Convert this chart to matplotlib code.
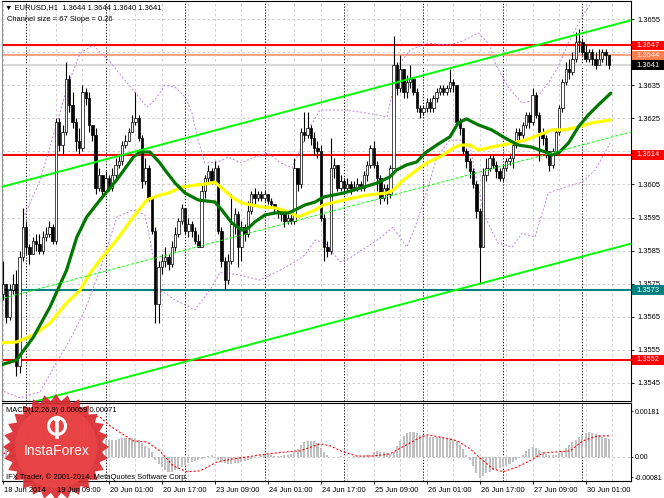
import numpy as np
import matplotlib
matplotlib.use("Agg")
import matplotlib.pyplot as plt
import matplotlib.transforms as mtransforms
from matplotlib.patches import Rectangle, Polygon, Circle

plt.rcParams['font.family'] = ['Liberation Sans', 'DejaVu Sans']

# ---------------- data (prices in pips above 1.3500) ----------------
BASE = 1.3500
PIP = 0.0001

first_open = 72
close_p = [75, 65, 73, 75, 50, 83, 92, 86, 84, 88,
           87, 85, 89, 90, 92, 88, 124, 117, 121, 137,
           129, 124, 118, 116, 133, 131, 123, 120, 104, 108,
           103, 107, 104, 108, 111, 112, 117, 118, 121, 124,
           125, 119, 106, 110, 101, 91, 69, 80, 82, 83,
           81, 86, 90, 94, 98, 91, 93, 91, 88, 86,
           103, 107, 109, 106, 110, 91, 82, 76, 82, 93,
           96, 86, 92, 90, 97, 102, 101, 102, 101, 102,
           100, 99, 98, 97, 96, 94, 95, 94, 110, 105,
           121, 120, 122, 119, 116, 115, 95, 86, 85, 110,
           111, 104, 106, 104, 105, 104, 104, 105, 104, 108,
           111, 116, 111, 107, 101, 104, 102, 110, 141, 134,
           140, 133, 136, 137, 133, 128, 127, 128, 130, 128,
           131, 133, 134, 133, 134, 136, 135, 124, 122, 115,
           112, 109, 105, 97, 86, 108, 110, 113, 111, 109,
           107, 110, 112, 113, 117, 121, 120, 123, 126, 124,
           132, 126, 121, 119, 115, 111, 115, 121, 128, 136,
           140, 139, 143, 148, 148, 145, 143, 145, 143, 141,
           143, 145, 144, 141]
high_p = [82, 75, 75, 78, 79, 85, 98, 94, 87, 89,
          90, 90, 91, 92, 94, 93, 125, 125, 123, 142,
          138, 133, 125, 122, 135, 134, 133, 122, 122, 110,
          108, 109, 108, 110, 113, 114, 118, 120, 122, 126,
          133, 126, 120, 113, 111, 101, 92, 82, 84, 86,
          84, 88, 92, 95, 99, 97, 95, 94, 92, 90,
          105, 108, 111, 110, 112, 111, 92, 83, 84, 102,
          98, 97, 94, 93, 100, 103, 104, 103, 103, 103,
          102, 101, 99, 98, 97, 96, 96, 96, 113, 109,
          122, 127, 127, 123, 121, 118, 117, 96, 88, 119,
          113, 111, 108, 107, 107, 106, 106, 107, 106, 109,
          112, 117, 118, 112, 108, 105, 105, 111, 150, 142,
          144, 140, 138, 141, 137, 134, 129, 129, 131, 131,
          132, 134, 135, 135, 135, 140, 137, 135, 125, 122,
          116, 113, 110, 106, 98, 110, 113, 114, 114, 112,
          110, 111, 113, 114, 118, 122, 122, 124, 127, 127,
          134, 133, 127, 122, 120, 115, 116, 122, 129, 137,
          142, 143, 145, 151, 152, 149, 147, 146, 146, 145,
          146, 146, 146, 144]
low_p = [70, 63, 64, 72, 47, 48, 82, 84, 81, 84,
         85, 84, 84, 88, 89, 87, 87, 115, 114, 120,
         127, 122, 115, 114, 115, 129, 121, 118, 102, 103,
         101, 102, 103, 103, 106, 110, 111, 116, 118, 121,
         123, 118, 104, 105, 100, 90, 63, 63, 78, 80,
         79, 80, 85, 89, 93, 90, 89, 89, 87, 86,
         86, 101, 105, 105, 105, 90, 80, 73, 75, 81,
         90, 80, 82, 88, 89, 96, 99, 100, 100, 100,
         99, 98, 96, 95, 94, 92, 93, 93, 93, 103,
         104, 118, 119, 117, 114, 113, 94, 82, 83, 84,
         107, 103, 103, 102, 103, 102, 103, 103, 103, 103,
         106, 110, 110, 103, 99, 100, 99, 101, 110, 132,
         133, 131, 131, 134, 132, 127, 125, 126, 127, 127,
         127, 130, 132, 132, 132, 133, 133, 123, 120, 114,
         110, 107, 104, 95, 75, 86, 106, 109, 110, 107,
         106, 106, 109, 111, 110, 116, 118, 119, 122, 122,
         123, 125, 112, 117, 113, 109, 110, 114, 120, 127,
         135, 137, 138, 142, 145, 144, 142, 142, 141, 140,
         141, 142, 141, 140]

# moving averages (bar index, pips)
ma_green_i = [-0.9, 4.1, 9.2, 14.2, 19.2, 22.3, 25.3, 29.3, 34.3, 39.4, 41.4, 44.4, 47.4,
              48.9, 52, 55, 59, 64, 66.1, 69.1, 72.1, 74.1, 76.1, 79.2, 82.2, 86.2, 88.2,
              91.2, 94.3, 96.8, 102.8, 107.9, 112.9, 116.9, 118.9, 121.9, 125, 127.5, 131,
              135, 137.5, 140, 143.6, 147.6, 151.7, 155.7, 159.7, 163.8, 165.8, 167.8,
              170.8, 173.8, 176.8, 179.8, 183.6]
ma_green_p = [50.4, 51.9, 58.9, 68, 79.1, 89.1, 95.2, 100.3, 106.3, 113.3, 114.8, 114.8, 111.5,
              109.4, 105.4, 102.4, 100.3, 99.7, 97.3, 93.4, 91.2, 91.8, 93.7, 95.8, 96.4, 96.4,
              97.3, 98.8, 99.7, 101.2, 102.4, 103.9, 105.4, 107.3, 109.4, 110.9, 111.8, 114.5,
              116.9, 119.4, 123.6, 124.8, 123, 121.5, 119, 116.9, 116.3, 114.8, 113.9, 114.5,
              117.5, 122.4, 126, 129, 132.6]
ma_yellow_i = [-0.9, 4.1, 9.2, 14.2, 19.2, 23.3, 26.3, 29.3, 34.3, 39.4, 43.4, 47.4, 49.9,
               54, 58, 61, 64, 66.1, 69.1, 72.1, 75.1, 78.2, 82.2, 86.2, 89.2, 92.2, 94.3,
               96.8, 102.8, 109.9, 115.9, 117.9, 120.9, 125, 128, 133, 136, 138.1, 141.1,
               143.6, 147.6, 153.7, 157.7, 161.7, 165.8, 169.8, 173.8, 177.8, 183.6]
ma_yellow_p = [57.1, 57.4, 59.5, 63.1, 69.2, 73.1, 78.2, 82.2, 88.2, 95.2, 100.3, 101.8, 102.4,
               104.2, 104.8, 105.1, 105.7, 103.9, 101.2, 99.4, 98.8, 98.2, 97.9, 96.7, 95.2,
               96.4, 97.3, 98.8, 100.3, 101.8, 102.4, 103.3, 106.3, 109.4, 111.5, 113.9, 116,
               116.9, 116.9, 115.4, 116.3, 117.5, 118.4, 119.9, 121.5, 121.5, 122.4, 123.6, 124.5]

# envelope bands (violet dotted)
band_up_i = [6.6, 11.2, 15.7, 19.6, 23.3, 27.2, 32.3, 39.3, 43.5, 45.9, 48.9, 52, 55, 57.1,
             58.9, 61, 64.9, 68, 71.9, 76.1, 80.1, 84, 87.3, 89.7, 92.7, 95.8, 102.7, 107.9,
             113, 116, 117.8, 119.9, 123, 128.1, 135, 139.6, 143.5, 147.1, 148.6, 152.6,
             156.8, 160.7, 164.7, 167.7, 170.7, 172.8, 175.8, 180.4]
band_up_p = [95.8, 106.3, 121.5, 135, 144.7, 147.1, 142, 133.5, 128.4, 130.5, 135, 134.4,
             131.4, 126.6, 118.4, 111.5, 111.8, 113.3, 111.5, 113.3, 114.5, 111.5, 110, 115.4,
             122.4, 127.5, 127.5, 126.9, 126, 125.4, 133.5, 141.7, 145.6, 147.7, 147.1, 148.7,
             150.8, 147.1, 141.7, 134.4, 129.6, 130.5, 135.7, 140.5, 147.7, 151.7, 157.1, 163.8]
band_lo_i = [-0.9, 5.1, 11.2, 15.7, 20.2, 24.8, 29.3, 34.4, 39.3, 42.9, 45, 47.4, 52, 58,
             62.5, 65.6, 71.6, 77.6, 83.7, 88.2, 91.2, 94.3, 97.3, 101.8, 104.8, 109.4, 113.9,
             117.8, 119.9, 122, 124.5, 127.5, 131.1, 135, 138.1, 141.1, 143.5, 145.6, 149.5,
             153.8, 156.8, 160.7, 164.7, 169.8, 174.9, 178.9, 183.4]
band_lo_p = [42.9, 40.5, 42.3, 50.4, 58, 67.1, 79.1, 95.2, 97.3, 95.8, 85.2, 73.1, 70.1, 67.1,
             73.1, 78.5, 77.6, 76.1, 79.1, 81.6, 83.7, 88.2, 87.3, 81.6, 82.8, 85.8, 88.8,
             92.1, 89.1, 86.1, 92.1, 101.2, 113.3, 118.4, 118.4, 116.3, 104.2, 95.2, 87.3,
             86.1, 90.3, 89.1, 102.4, 104.2, 105.7, 109.4, 117.5]

# regression channel
channel_i = [-1, 190]
channel_upper_p = [104.1, 154.7]
channel_size = 67.5

# horizontal levels
level_prices = [1.3647, 1.3644, 1.3641, 1.3614, 1.3573, 1.3552]
level_line_colors = ['#FF0000', '#FFA585', '#D8D8D8', '#FF0000', '#008080', '#FF0000']
level_box_colors = ['#FF0000', '#FF7F50', '#000000', '#FF0000', '#008080', '#FF0000']

price_ticks = [1.3545, 1.3555, 1.3565, 1.3575, 1.3585, 1.3595,
               1.3605, 1.3615, 1.3625, 1.3635, 1.3645, 1.3655]
hidden_price_ticks = [1.3615, 1.3645]   # covered by level boxes in the reference

time_label_idx = [0, 16, 32, 48, 64, 80, 96, 112, 128, 144, 160, 176]
time_labels = ["18 Jun 2014", "19 Jun 09:00", "20 Jun 01:00", "20 Jun 17:00",
               "23 Jun 09:00", "24 Jun 01:00", "24 Jun 17:00", "25 Jun 09:00",
               "26 Jun 01:00", "26 Jun 17:00", "27 Jun 09:00", "30 Jun 01:00"]
day_start_idx = [7, 31, 55, 79, 103, 127, 151, 175]

# MACD (units of 1e-5)
macd_main = [48, 40, 42, 45, 20, 45, 70, 85, 95, 100,
             105, 108, 110, 112, 114, 112, 130, 138, 142, 155,
             158, 155, 150, 146, 145, 142, 132, 118, 95, 72,
             60, 58, 56, 57, 58, 60, 62, 64, 65, 64,
             62, 58, 45, 38, 30, 15, -10, -25, -35, -45,
             -50, -50, -45, -40, -35, -28, -22, -18, -15, -12,
             -8, -3, 3, 5, -3, -10, -15, -20, -25, -25,
             -22, -20, -18, -15, -12, -8, -3, 0, 3, 5,
             5, 5, 4, 3, 4, 5, 6, 10, 18, 28,
             40, 50, 55, 55, 52, 45, 30, 15, 5, 0,
             -2, 0, 2, 0, -2, 0, 2, 3, 2, 3,
             5, 8, 15, 20, 18, 15, 12, 10, 15, 35,
             55, 70, 80, 85, 85, 80, 75, 72, 70, 68,
             67, 66, 66, 65, 64, 62, 60, 55, 40, 25,
             5, -10, -30, -55, -70, -65, -55, -50, -45, -42,
             -38, -35, -30, -25, -18, -12, -5, 5, 20, 28,
             32, 30, 22, 15, 10, 8, 6, 8, 12, 20,
             30, 40, 50, 58, 66, 75, 80, 82, 80, 78,
             72, 68, 64, 59]
signal_i = [-0.9, 4.2, 9.1, 14.2, 19.3, 24.2, 27.2, 29.3, 32.3, 39.3, 43.5, 47.4, 51.4, 55.6,
            59.5, 64.7, 69.5, 75.5, 79.8, 85.8, 89.7, 95.8, 98.8, 102.7, 106.9, 111.8, 116.9,
            120.8, 125.1, 128.1, 132, 137.2, 141.1, 145, 148, 151.1, 155.3, 159.2, 163.1,
            167.4, 171.3, 175.2, 179.5, 183.4]
signal_v = [3, 37, 94, 115, 128, 136, 137, 134, 104, 54, 50, 20, -30, -50,
            -47, -17, -7, 3, 10, 17, 20, 44, 37, 17, 3, 3, 10,
            34, 60, 74, 67, 54, 27, -13, -40, -50, -34, -13, 13,
            17, 20, 54, 70, 71]

# ---------------- figure ----------------
W, H = 664, 498
fig = plt.figure(figsize=(W / 100, H / 100), dpi=100)
fig.patch.set_facecolor('white')

def frac(x0, y0, x1, y1):
    return [x0 / W, 1 - y1 / H, (x1 - x0) / W, (y1 - y0) / H]

ax = fig.add_axes(frac(2, 1, 631, 401))
ax2 = fig.add_axes(frac(2, 403, 631, 481))

XMIN, XMAX = -0.3, 189.7
FS = 5.4

close = BASE + np.array(close_p) * PIP
high = BASE + np.array(high_p) * PIP
low = BASE + np.array(low_p) * PIP
opens = np.concatenate([[BASE + first_open * PIP], close[:-1]])
high = np.maximum(high, np.maximum(opens, close))
low = np.minimum(low, np.minimum(opens, close))
n = len(close)
idx = np.arange(n)

for a in (ax, ax2):
    a.set_xlim(XMIN, XMAX)
    a.set_facecolor('white')
    for s in a.spines.values():
        s.set_color('black')
        s.set_linewidth(0.8)
    a.spines['left'].set_color('#909090')
    for gi in range(0, 190, 8):
        a.axvline(gi, color='#C8C8C8', lw=0.6, ls=(0, (3, 3)), zorder=0)
    for d in day_start_idx:
        a.axvline(d, color='black', lw=0.7, ls=(0, (1.2, 1.8)), zorder=0.5)

ax.set_ylim(BASE + 39.56 * PIP, BASE + 160.44 * PIP)
for p in price_ticks:
    ax.axhline(p, color='#C8C8C8', lw=0.6, ls=(0, (3, 3)), zorder=0)

for p, c in zip(level_prices, level_line_colors):
    ax.axhline(p, color=c, lw=1.5, zorder=1)

# channel
ci = np.array(channel_i, dtype=float)
cu = BASE + np.array(channel_upper_p) * PIP
ax.plot(ci, cu, color='#00FF00', lw=1.4, zorder=6)
ax.plot(ci, cu - channel_size * PIP, color='#00FF00', lw=1.4, zorder=6)
ax.plot(ci, cu - channel_size / 2 * PIP, color='#00FF00', lw=0.7, ls=(0, (3, 2)), zorder=6)

# bands
ax.plot(band_up_i, BASE + np.array(band_up_p) * PIP, color='#BF7FEF', lw=0.7, ls=(0, (2, 2)), zorder=2)
ax.plot(band_lo_i, BASE + np.array(band_lo_p) * PIP, color='#BF7FEF', lw=0.7, ls=(0, (2, 2)), zorder=2)

# candles
ax.vlines(idx, low, high, color='black', lw=0.8, zorder=3)
up = close >= opens
bb = np.minimum(opens, close)
bh = np.maximum(np.abs(close - opens), 0.25 * PIP)
ax.bar(idx[up], bh[up], bottom=bb[up], width=0.72, color='white', edgecolor='black', lw=0.5, zorder=4)
ax.bar(idx[~up], bh[~up], bottom=bb[~up], width=0.72, color='black', edgecolor='black', lw=0.5, zorder=4)

# moving averages
ax.plot(ma_yellow_i, BASE + np.array(ma_yellow_p) * PIP, color='#FFFF00', lw=2.3, zorder=5,
        solid_capstyle='round')
ax.plot(ma_green_i, BASE + np.array(ma_green_p) * PIP, color='#007800', lw=2.3, zorder=5,
        solid_capstyle='round')

# price axis
ax.yaxis.tick_right()
ax.set_yticks(price_ticks)
ax.set_yticklabels(['' if p in hidden_price_ticks else '%.4f' % p for p in price_ticks])
ax.tick_params(axis='y', labelsize=FS, length=2.2, width=0.6, pad=2.5, colors='black')
ax.set_xticks([])

# level boxes on price axis
btr = mtransforms.blended_transform_factory(ax.transAxes, ax.transData)
for p, c in zip(level_prices, level_box_colors):
    ax.add_patch(Rectangle((1.002, p - 1.48 * PIP), 0.053, 2.96 * PIP, transform=btr,
                           facecolor=c, edgecolor='none', clip_on=False, zorder=20))
    ax.text(1.009, p, '%.4f' % p, transform=btr, color='white', fontsize=FS,
            va='center', ha='left', clip_on=False, zorder=21)

# MACD panel
hist = np.array(macd_main) * 1e-5
ax2.set_ylim(-0.00081, 0.00181)
ax2.axhline(0, color='#C0C0C0', lw=0.6, ls=(0, (3, 3)), zorder=0.6)
ax2.bar(idx, hist, width=0.62, color='#C0C0C0', edgecolor='none', zorder=2)
ax2.plot(signal_i, np.array(signal_v) * 1e-5, color='#FF0000', lw=0.8, ls=(0, (1.8, 1.8)), zorder=3)
ax2.yaxis.tick_right()
ax2.set_yticks([0.00154, 0.0, -0.00068])
ax2.set_yticklabels(['0.00181', '0.00', '-0.00081'])
ax2.tick_params(axis='y', labelsize=5.0, length=1.5, width=0.6, pad=1.0)
ax2.set_xticks(time_label_idx)
ax2.set_xticklabels([])
ax2.tick_params(axis='x', length=2.2, width=0.6)

# ---------------- overlay: logo and texts ----------------
ov = fig.add_axes([0, 0, 1, 1], zorder=10)
ov.set_xlim(0, W)
ov.set_ylim(H, 0)
ov.axis('off')
ov.patch.set_alpha(0)

cx, cy = 56, 447
nsp = 28
ang = np.linspace(0, 2 * np.pi, 2 * nsp, endpoint=False) - np.pi / 2
rad = np.where(np.arange(2 * nsp) % 2 == 0, 53, 46)
star = np.column_stack([cx + rad * np.cos(ang), cy + rad * np.sin(ang)])
ov.add_patch(Polygon(star, closed=True, facecolor='#D92B2F', edgecolor='none', alpha=0.92, zorder=1))
ov.add_patch(Circle((cx, cy), 41, facecolor='#EA4446', edgecolor='none', alpha=0.9, zorder=1.1))
ov.add_patch(Circle((cx + 1, 426), 8.5, facecolor='none', edgecolor='white', lw=2.2, zorder=1.2))
ov.add_patch(Circle((cx + 1, 419), 3.2, facecolor='white', edgecolor='none', zorder=1.3))
ov.plot([cx + 1, cx + 1], [423, 437], color='white', lw=2.6, zorder=1.3)
ov.text(cx + 1, 451, 'InstaForex', color='white', fontsize=10, ha='center', va='center', zorder=1.4)

ov.text(5, 7.5, '\u25bc EURUSD,H1  1.3644 1.3644 1.3640 1.3641', fontsize=FS, ha='left', va='center', zorder=3)
ov.text(7, 19.5, 'Channel size = 67 Slope = 0.26', fontsize=FS, ha='left', va='center', zorder=3)
ov.text(6, 410, 'MACD(12,26,9) 0.00059 0.00071', fontsize=FS, ha='left', va='center', zorder=3)
ov.text(6, 477.5, 'IFX Trader, \u00a9 2001-2014, MetaQuotes Software Corp.', fontsize=FS,
        ha='left', va='center', zorder=3)

xtr = mtransforms.blended_transform_factory(ax2.transData, fig.transFigure)
for i, lab in zip(time_label_idx, time_labels):
    fig.text(i + 0.3, 1 - 490.5 / H, lab, transform=xtr, fontsize=FS, ha='left', va='center', zorder=12)

fig.savefig('out.png', dpi=100)
